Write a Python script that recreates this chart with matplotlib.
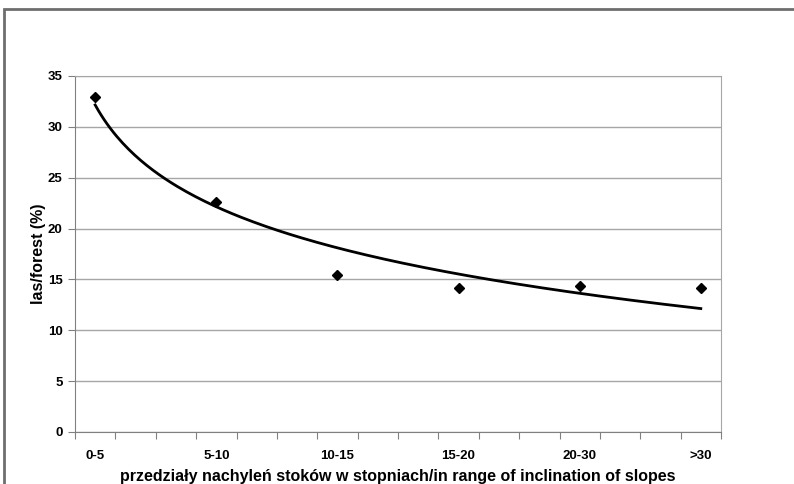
import numpy as np
import matplotlib
matplotlib.use("Agg")
import matplotlib.pyplot as plt
from matplotlib.patches import Rectangle

plt.rcParams['font.family'] = ['Liberation Sans', 'DejaVu Sans']

# przedzialy nachylen (co trzecia kategoria na osi z 16 kategoriami)
kategorie = ['0-5', '5-10', '10-15', '15-20', '20-30', '>30']
pozycje = [1, 4, 7, 10, 13, 16]
las = [32.9, 22.6, 15.4, 14.2, 14.4, 14.2]
n_kat = 16

fig = plt.figure(figsize=(7.94, 4.84), dpi=100)
ax = fig.add_axes([75 / 794, 1 - 432 / 484, (721 - 75) / 794, (432 - 76) / 484])

# ramka wokol wykresu (przycieta z prawej i z dolu)
fig.patches.append(Rectangle((4 / 794, -0.1), 1.2, 1 - 9 / 484 + 0.1,
                             transform=fig.transFigure, fill=False,
                             edgecolor='#6e6e6e', linewidth=2))

# linia trendu logarytmicznego
a, b = np.polyfit(np.log(pozycje), las, 1)
xs = np.linspace(1, n_kat, 200)
ax.plot(xs, a * np.log(xs) + b, color='black', linewidth=2, zorder=3)
ax.plot(pozycje, las, linestyle='none', marker='D', color='black',
        markersize=5, zorder=4)

ax.set_xlim(0.5, n_kat + 0.5)
ax.set_ylim(0, 35)
ax.set_yticks(range(0, 36, 5))
ax.yaxis.grid(True, color='#a6a6a6', linewidth=1)
ax.set_axisbelow(True)

ax.set_xticks(np.arange(0.5, n_kat + 1, 1))
ax.set_xticklabels([])
ax.set_xticks(pozycje, minor=True)
ax.set_xticklabels(kategorie, minor=True, fontsize=9.5, fontweight='bold')
ax.tick_params(axis='x', which='major', length=5, color='#808080', direction='out')
ax.tick_params(axis='x', which='minor', length=0, pad=13)
ax.tick_params(axis='y', length=5, color='#808080', labelsize=9.5, pad=4)
for lab in ax.get_yticklabels():
    lab.set_fontweight('bold')

for s in ['top', 'right']:
    ax.spines[s].set_color('#a6a6a6')
for s in ['left', 'bottom']:
    ax.spines[s].set_color('#808080')

ax.set_ylabel('las/forest (%)', fontsize=11.5, fontweight='bold', labelpad=1)
ax.set_xlabel('przedziały nachyleń stoków w stopniach/in range of inclination of slopes',
              fontsize=11.5, fontweight='bold', labelpad=5)

fig.savefig('out.png', dpi=100)
